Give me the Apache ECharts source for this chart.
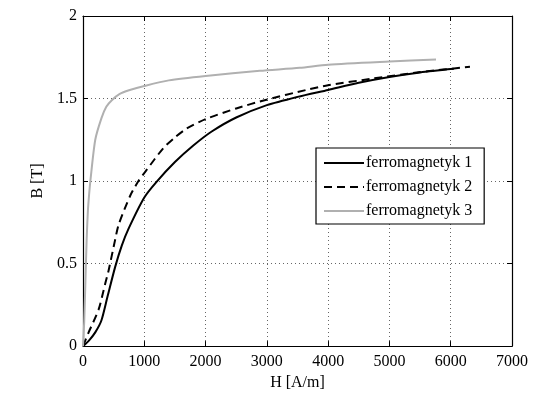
<!DOCTYPE html>
<html>
<head>
<meta charset="utf-8">
<script src="https://cdn.jsdelivr.net/npm/echarts@6/dist/echarts.min.js"></script>
<style>
  html, body { margin: 0; padding: 0; background: #fff; }
  #chart { width: 535px; height: 396px; }
</style>
</head>
<body>
<div id="chart"></div>
<script>
// Magnetisation curves B(H): [H in A/m, B in T]
const ferro1 = [
  [0, 0], [100, 0.035], [200, 0.083], [300, 0.155], [400, 0.3], [525, 0.48],
  [634, 0.61], [742, 0.71], [1000, 0.9], [1200, 0.995], [1500, 1.115],
  [1800, 1.215], [2100, 1.3], [2500, 1.385], [3000, 1.46], [3500, 1.51],
  [4000, 1.552], [4500, 1.595], [5000, 1.63], [5500, 1.658], [6050, 1.68]
];
const ferro2 = [
  [0, 0], [92, 0.083], [254, 0.221], [363, 0.379], [417, 0.457], [525, 0.645],
  [580, 0.734], [770, 0.911], [905, 1.0], [1041, 1.069], [1312, 1.2],
  [1502, 1.265], [1692, 1.318], [2000, 1.375], [2500, 1.44], [2994, 1.493],
  [3645, 1.552], [3997, 1.58], [4729, 1.621], [5500, 1.66], [6314, 1.692]
];
const ferro3 = [
  [0, 0], [20, 0.15], [40, 0.4], [60, 0.65], [80, 0.82], [100, 0.92], [120, 1.0],
  [200, 1.25], [300, 1.38], [380, 1.45], [470, 1.49], [600, 1.528], [750, 1.55],
  [1000, 1.576], [1400, 1.61], [2000, 1.637], [2885, 1.668], [3536, 1.686],
  [4000, 1.705], [5000, 1.724], [5760, 1.736]
];
const seriesNames = ['ferromagnetyk 1', 'ferromagnetyk 2', 'ferromagnetyk 3'];
const xTicks = { min: 0, max: 7000, interval: 1000 };
const yTicks = { min: 0, max: 2, interval: 0.5 };

const font = 'Liberation Serif';
const chart = echarts.init(document.getElementById('chart'), null, { renderer: 'canvas' });

const gridLine = { show: true, lineStyle: { color: '#666', type: [1, 3], width: 1 } };
const frameLine = { show: true, onZero: false, lineStyle: { color: '#000', width: 1.2 } };
const inTick = { show: true, inside: true, length: 5, lineStyle: { color: '#000', width: 1 } };
const plainNumber = v => String(v);

chart.setOption({
  backgroundColor: '#fff',
  animation: false,
  grid: { left: 83, right: 23, top: 16, bottom: 42, containLabel: false },
  legend: {
    left: 316, top: 148, orient: 'vertical',
    data: seriesNames,
    backgroundColor: '#fff', borderColor: '#000', borderWidth: 1.2,
    padding: [7, 12, 5, 7],
    itemWidth: 40, itemHeight: 14, itemGap: 8,
    itemStyle: { opacity: 0 },
    textStyle: { fontFamily: font, fontSize: 16, color: '#000', padding: [0, 0, 0, -3] }
  },
  xAxis: [
    {
      type: 'value', position: 'bottom', ...xTicks,
      name: 'H [A/m]', nameLocation: 'middle', nameGap: 24,
      nameTextStyle: { fontFamily: font, fontSize: 16, color: '#000' },
      axisLine: frameLine, axisTick: inTick, splitLine: gridLine,
      axisLabel: { fontFamily: font, fontSize: 16, color: '#000', margin: 8, formatter: plainNumber }
    },
    {
      type: 'value', position: 'top', ...xTicks,
      axisLine: frameLine, axisTick: inTick, splitLine: { show: false },
      axisLabel: { show: false }
    }
  ],
  yAxis: [
    {
      type: 'value', position: 'left', ...yTicks,
      name: 'B [T]', nameLocation: 'middle', nameGap: 37,
      nameTextStyle: { fontFamily: font, fontSize: 16, color: '#000' },
      axisLine: frameLine, axisTick: inTick, splitLine: gridLine,
      axisLabel: { fontFamily: font, fontSize: 16, color: '#000', margin: 6, formatter: plainNumber }
    },
    {
      type: 'value', position: 'right', ...yTicks,
      axisLine: frameLine, axisTick: inTick, splitLine: { show: false },
      axisLabel: { show: false }
    }
  ],
  series: [
    {
      name: seriesNames[0], type: 'line', data: ferro1, symbol: 'none', showSymbol: false,
      smooth: 0.25,
      lineStyle: { color: '#000', width: 2 }, itemStyle: { color: '#000' }
    },
    {
      name: seriesNames[1], type: 'line', data: ferro2, symbol: 'none', showSymbol: false,
      smooth: 0.25,
      lineStyle: { color: '#000', width: 2, type: [8, 5] }, itemStyle: { color: '#000' }
    },
    {
      name: seriesNames[2], type: 'line', data: ferro3, symbol: 'none', showSymbol: false,
      smooth: 0.25,
      lineStyle: { color: '#b0b0b0', width: 2 }, itemStyle: { color: '#b0b0b0' }
    }
  ]
});
</script>
</body>
</html>
